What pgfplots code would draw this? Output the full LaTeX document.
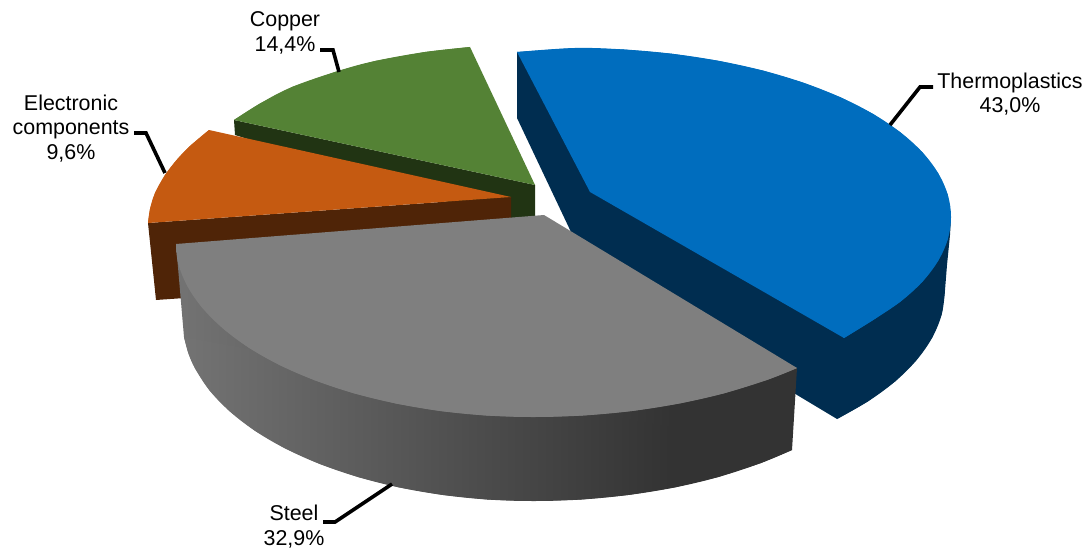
\documentclass[border=0pt]{standalone}
\usepackage{fontspec}
\setmainfont{Liberation Sans}
\usepackage{pgfplots}
\pgfplotsset{compat=1.18}

\definecolor{blueTop}{HTML}{006DBE}
\definecolor{blueSide}{HTML}{002D50}
\definecolor{greenTop}{HTML}{548235}
\definecolor{greenSide}{HTML}{213413}
\definecolor{orangeTop}{HTML}{C55A11}
\definecolor{orangeSide}{HTML}{4F2407}
\definecolor{grayTop}{HTML}{7F7F7F}
\definecolor{graySideL}{HTML}{737373}
\definecolor{graySideR}{HTML}{333333}

% side wall of the steel slice, flat dark from about x=680
\pgfdeclarehorizontalshading{steelSide}{100bp}{color(0bp)=(graySideL); color(25bp)=(graySideL); color(65bp)=(graySideR); color(100bp)=(graySideR)}

% every face is a polygon plus a smooth fill of its curved edge, so the arcs stay round
\tikzset{
    face/.style={draw=none, fill=#1, mark=none},
    arc/.style={draw=none, fill=#1, mark=none, smooth, tension=0.6},
    leader/.style={black, line width=3.6bp, mark=none, line join=miter},
    lbl/.style={align=center, font=\fontsize{21.5}{24.5}\selectfont},
}

\begin{document}
\begin{tikzpicture}
\begin{axis}[
    scale only axis,
    width=1086bp,
    height=548bp,
    xmin=0, xmax=1086,
    ymin=0, ymax=548,
    y dir=reverse,
    hide axis,
    clip=false,
]
    % Copper
    \addplot[face=greenSide] coordinates {(234,120) (535,185) (535,222) (511,222) (235,135)};
    \addplot[face=greenTop] coordinates {(470,47) (535,185) (234,120) (260,103.5) (292,87) (338,71) (375,61) (425,52)};
    \addplot[arc=greenTop] coordinates {(234,120) (260,103.5) (292,87) (338,71) (375,61) (425,52) (470,47)};

    % Electronic components
    \addplot[face=orangeSide] coordinates {(148,223) (156,300) (300,290) (511,262) (511,197)};
    \addplot[face=orangeTop] coordinates {(511,197) (209,130) (190,146) (177,159.5) (165,175) (155,193) (150,209) (148,223)};
    \addplot[arc=orangeTop] coordinates {(209,130) (190,146) (177,159.5) (165,175) (155,193) (150,209) (148,223)};

    % Thermoplastics
    \addplot[face=blueSide] coordinates {(517,52) (517,118) (571,232) (700,330) (797,395) (837,419)
        (867.9,401.4) (895,381.5) (916.6,360) (932.3,337.4) (941.8,313.9) (945,290) (947,265) (950,235) (951,217)};
    \addplot[arc=blueSide] coordinates {(945,290) (941.8,313.9) (932.3,337.4) (916.6,360) (895,381.5) (867.9,401.4) (837,419)};
    \addplot[face=blueTop] coordinates {(517,52) (575,48) (624.1,49.5) (672.3,53.8) (718.9,60.9) (763,70.6) (803.9,82.9)
        (840.9,97.5) (873.3,114.1) (900.6,132.5) (922.4,152.3) (938.2,173.3) (947.8,194.9) (951,217) (947.8,239.1)
        (938.2,260.7) (922.4,281.7) (900.6,301.5) (873.3,319.9) (844,338) (590,192)};
    \addplot[arc=blueTop] coordinates {(517,52) (575,48) (624.1,49.5) (672.3,53.8) (718.9,60.9) (763,70.6) (803.9,82.9)
        (840.9,97.5) (873.3,114.1) (900.6,132.5) (922.4,152.3) (938.2,173.3) (947.8,194.9) (951,217) (947.8,239.1)
        (938.2,260.7) (922.4,281.7) (900.6,301.5) (873.3,319.9) (844,338)};

    % Steel
    \addplot[draw=none, mark=none, shade, shading=steelSide]
        coordinates {(176,244) (184,337) (188.3,353) (195,368.3) (209.6,390.5) (229.9,411.5) (255.3,431) (285.5,448.6)
        (319.9,464) (358,477) (399.1,487.4) (442.4,494.9) (487.3,499.5) (533,501) (581.4,499.5) (628.9,494.9)
        (674.8,487.4) (718.3,477) (761,463) (792,450) (797,368)};
    \addplot[draw=none, mark=none, smooth, tension=0.6, shade, shading=steelSide]
        coordinates {(184,337) (188.3,353) (195,368.3) (209.6,390.5) (229.9,411.5) (255.3,431) (285.5,448.6)
        (319.9,464) (358,477) (399.1,487.4) (442.4,494.9) (487.3,499.5) (533,501) (581.4,499.5) (628.9,494.9)
        (674.8,487.4) (718.3,477) (761,463) (792,450)};
    \addplot[face=grayTop] coordinates {(544,215) (176,244) (178.1,263.1) (187.2,285.8) (202.2,307.7) (223,328.5) (249,347.8)
        (279.9,365.2) (315.1,380.4) (354,393.3) (396,403.5) (440.3,411) (486.3,415.5) (533,417) (582.9,415.5)
        (631.9,411) (679.2,403.5) (724,393.3) (768.2,379.5) (797,368)};
    \addplot[arc=grayTop] coordinates {(176,244) (178.1,263.1) (187.2,285.8) (202.2,307.7) (223,328.5) (249,347.8)
        (279.9,365.2) (315.1,380.4) (354,393.3) (396,403.5) (440.3,411) (486.3,415.5) (533,417) (582.9,415.5)
        (631.9,411) (679.2,403.5) (724,393.3) (768.2,379.5) (797,368)};

    % leader lines
    \addplot[leader] coordinates {(890,125) (920,87) (933,87)};
    \addplot[leader] coordinates {(339,72) (333,50) (320,50)};
    \addplot[leader] coordinates {(165,173) (146,133) (134,133)};
    \addplot[leader] coordinates {(392,484) (335,522) (323,522)};

    % labels
    \node[lbl] at (axis cs:1010,94) {Thermoplastics\\43,0\%};
    \node[lbl] at (axis cs:285,33) {Copper\\14,4\%};
    \node[lbl] at (axis cs:71,128.5) {Electronic\\components\\9,6\%};
    \node[lbl] at (axis cs:294,526.5) {Steel\\32,9\%};
\end{axis}
\pgfresetboundingbox
\path (0,0) rectangle (1086bp,548bp);
\end{tikzpicture}
\end{document}
